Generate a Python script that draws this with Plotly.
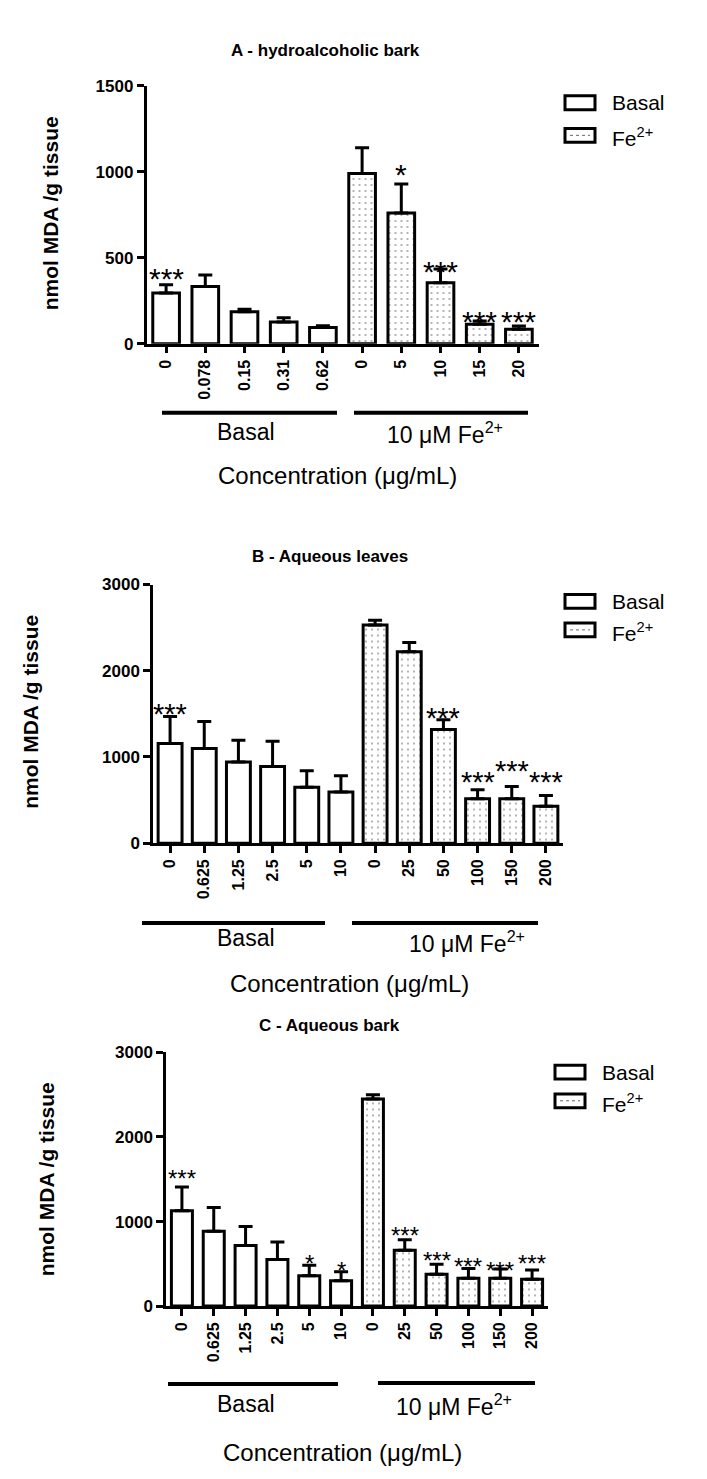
import plotly.graph_objects as go

W, H = 707, 1479
FONT = "Liberation Sans, Arial, sans-serif"

# ---------------- data ----------------
catsA = ["0", "0.078", "0.15", "0.31", "0.62", "0", "5", "10", "15", "20"]
A_basal = [295, 333, 186, 126, 94]
A_basal_err = [48, 67, 14, 25, 10]
A_fe = [990, 760, 355, 113, 84]
A_fe_err = [150, 169, 80, 19, 19]
A_stars = [(0, "***", 431), (6, "*", 1040), (7, "***", 471), (8, "***", 184), (9, "***", 184)]

catsB = ["0", "0.625", "1.25", "2.5", "5", "10", "0", "25", "50", "100", "150", "200"]
B_basal = [1157, 1099, 942, 890, 649, 592]
B_basal_err = [312, 313, 252, 293, 190, 190]
B_fe = [2531, 2221, 1317, 515, 515, 427]
B_fe_err = [53, 107, 114, 103, 141, 126]
B_stars = [(0, "***", 1603), (8, "***", 1557), (9, "***", 813), (10, "***", 939), (11, "***", 813)]

catsC = ["0", "0.625", "1.25", "2.5", "5", "10", "0", "25", "50", "100", "150", "200"]
C_basal = [1129, 884, 716, 552, 358, 300]
C_basal_err = [280, 283, 226, 207, 124, 105]
C_fe = [2448, 662, 377, 330, 330, 319]
C_fe_err = [50, 124, 117, 114, 110, 109]
C_stars = [(0, "***", 1599), (4, "*", 584), (5, "*", 502), (7, "***", 922), (8, "***", 619),
           (9, "***", 549), (10, "***", 502), (11, "***", 595)]

titles = ["A - hydroalcoholic bark", "B - Aqueous leaves", "C - Aqueous bark"]
yticksA = [0, 500, 1000, 1500]
yticksBC = [0, 1000, 2000, 3000]

# ---------------- layout helpers ----------------
def px_x(p):
    return p / W


def px_y(p):
    return 1 - p / H


fig = go.Figure()

panels = [
    dict(cats=catsA, basal=A_basal, berr=A_basal_err, fe=A_fe, ferr=A_fe_err, stars=A_stars,
         xdom=(146.5, 538.5), ydom=(78, 339), yrange=1500, yticks=yticksA, title=titles[0],
         title_pos=(325, 42), ytitle_pos=(50, 207), star_fs=30, barw=0.68,
         leg=(565, 95, 130), br_basal=(162, 337, 409), br_fe=(354, 528, 409),
         lab_basal=(246, 428), lab_fe=(445, 430), lab_conc=(337, 473)),
    dict(cats=catsB, basal=B_basal, berr=B_basal_err, fe=B_fe, ferr=B_fe_err, stars=B_stars,
         xdom=(153, 563), ydom=(583, 845), yrange=3000, yticks=yticksBC, title=titles[1],
         title_pos=(330, 555), ytitle_pos=(31, 712), star_fs=29, barw=0.70,
         leg=(565, 600, 631), br_basal=(142, 325, 926), br_fe=(352, 538, 926),
         lab_basal=(246, 941), lab_fe=(467, 945), lab_conc=(349, 987)),
    dict(cats=catsC, basal=C_basal, berr=C_basal_err, fe=C_fe, ferr=C_fe_err, stars=C_stars,
         xdom=(166, 548), ydom=(1057, 1314), yrange=3000, yticks=yticksBC, title=titles[2],
         title_pos=(329, 1030), ytitle_pos=(46.5, 1186), star_fs=24, barw=0.66,
         leg=(555, 1077, 1108), br_basal=(168, 338, 1393), br_fe=(378, 535, 1392),
         lab_basal=(246, 1413), lab_fe=(454, 1414), lab_conc=(342, 1462)),
]

annotations = []
shapes = []
layout_axes = {}

for i, p in enumerate(panels):
    n = len(p["cats"])
    nb = len(p["basal"])
    xs = list(range(n))
    xb = xs[:nb]
    xf = xs[nb:]
    xa = "x" if i == 0 else f"x{i+1}"
    ya = "y" if i == 0 else f"y{i+1}"
    xkey = "xaxis" if i == 0 else f"xaxis{i+1}"
    ykey = "yaxis" if i == 0 else f"yaxis{i+1}"

    fig.add_trace(go.Bar(
        x=xb, y=p["basal"], xaxis=xa, yaxis=ya, width=p["barw"],
        marker=dict(color="white", line=dict(color="black", width=3)),
        error_y=dict(type="data", symmetric=False, array=p["berr"], arrayminus=[0] * nb,
                     color="black", thickness=3, width=7),
        showlegend=False, name="Basal"))
    fig.add_trace(go.Bar(
        x=xf, y=p["fe"], xaxis=xa, yaxis=ya, width=p["barw"],
        marker=dict(color="white", line=dict(color="black", width=3),
                    pattern=dict(shape=".", fgcolor="#444", bgcolor="white", size=6, solidity=0.1)),
        error_y=dict(type="data", symmetric=False, array=p["ferr"], arrayminus=[0] * len(xf),
                     color="black", thickness=3, width=7),
        showlegend=False, name="Fe2+"))

    layout_axes[xkey] = dict(
        domain=[px_x(p["xdom"][0]), px_x(p["xdom"][1])], anchor=ya,
        range=[-0.5, n - 0.5], tickmode="array", tickvals=xs, ticktext=p["cats"],
        tickangle=-90, ticks="outside", ticklen=7, tickwidth=2.5, tickcolor="black",
        showline=True, linewidth=2.5, linecolor="black", showgrid=False, zeroline=False,
        tickfont=dict(family=FONT, size=16, color="black", weight="bold"), fixedrange=True)
    layout_axes[ykey] = dict(
        domain=[px_y(p["ydom"][1]), px_y(p["ydom"][0])], anchor=xa,
        range=[0, p["yrange"]], tickmode="array", tickvals=p["yticks"],
        ticks="outside", ticklen=7, tickwidth=2.5, tickcolor="black",
        showline=True, linewidth=2.5, linecolor="black", showgrid=False, zeroline=False,
        tickfont=dict(family=FONT, size=17, color="black", weight="bold"), fixedrange=True)

    # stars
    for (idx, txt, lvl) in p["stars"]:
        annotations.append(dict(x=idx, y=lvl, xref=xa, yref=ya, text=txt, showarrow=False,
                                xanchor="center", yanchor="middle", yshift=-0.3 * p["star_fs"],
                                font=dict(family=FONT, size=p["star_fs"], color="black")))

    # title
    annotations.append(dict(x=px_x(p["title_pos"][0]), y=px_y(p["title_pos"][1]), xref="paper",
                            yref="paper", text=f"<b>{p['title']}</b>", showarrow=False,
                            xanchor="center", yanchor="middle",
                            font=dict(family=FONT, size=17, color="black")))
    # y title
    annotations.append(dict(x=px_x(p["ytitle_pos"][0]), y=px_y(p["ytitle_pos"][1]), xref="paper",
                            yref="paper", text="<b>nmol MDA /g tissue</b>", showarrow=False,
                            textangle=-90, xanchor="center", yanchor="middle",
                            font=dict(family=FONT, size=21, color="black")))
    # group brackets
    for (x0, x1, yy) in (p["br_basal"], p["br_fe"]):
        shapes.append(dict(type="line", xref="paper", yref="paper", x0=px_x(x0), x1=px_x(x1),
                           y0=px_y(yy), y1=px_y(yy), line=dict(color="black", width=4)))
    annotations.append(dict(x=px_x(p["lab_basal"][0]), y=px_y(p["lab_basal"][1]), xref="paper",
                            yref="paper", text="Basal", showarrow=False, xanchor="center",
                            yanchor="middle", font=dict(family=FONT, size=23, color="black")))
    annotations.append(dict(x=px_x(p["lab_fe"][0]), y=px_y(p["lab_fe"][1]), xref="paper",
                            yref="paper", text="10 \u03bcM Fe<sup>2+</sup>", showarrow=False,
                            xanchor="center", yanchor="middle",
                            font=dict(family=FONT, size=23, color="black")))
    annotations.append(dict(x=px_x(p["lab_conc"][0]), y=px_y(p["lab_conc"][1]), xref="paper",
                            yref="paper", text="Concentration (\u03bcg/mL)", showarrow=False,
                            xanchor="center", yanchor="middle",
                            font=dict(family=FONT, size=24, color="black")))

    # legend (drawn)
    lx, ly1, ly2 = p["leg"]
    for k, yy in enumerate([ly1, ly2 - 2]):
        shapes.append(dict(type="rect", xref="paper", yref="paper", x0=px_x(lx), x1=px_x(lx + 30),
                           y0=px_y(yy - 7), y1=px_y(yy + 7), fillcolor="white",
                           line=dict(color="black", width=3)))
        if k == 1:
            shapes.append(dict(type="line", xref="paper", yref="paper", x0=px_x(lx + 5),
                               x1=px_x(lx + 25), y0=px_y(yy), y1=px_y(yy),
                               line=dict(color="#666", width=1, dash="dot")))
    annotations.append(dict(x=px_x(lx + 45), y=px_y(ly1), xref="paper", yref="paper",
                            text="Basal", showarrow=False, xanchor="left", yanchor="middle",
                            font=dict(family=FONT, size=21, color="black")))
    annotations.append(dict(x=px_x(lx + 45), y=px_y(ly2), xref="paper", yref="paper",
                            text="Fe<sup>2+</sup>", showarrow=False, xanchor="left", yanchor="middle",
                            font=dict(family=FONT, size=21, color="black")))

fig.update_layout(
    width=W, height=H, margin=dict(l=0, r=0, t=0, b=0),
    paper_bgcolor="white", plot_bgcolor="white", barmode="overlay",
    annotations=annotations, shapes=shapes, showlegend=False,
    font=dict(family=FONT, color="black"),
    **layout_axes)

fig.write_html("out.html", config={"displayModeBar": False},
               post_script="document.body.style.margin='0';document.body.style.padding='0';")
